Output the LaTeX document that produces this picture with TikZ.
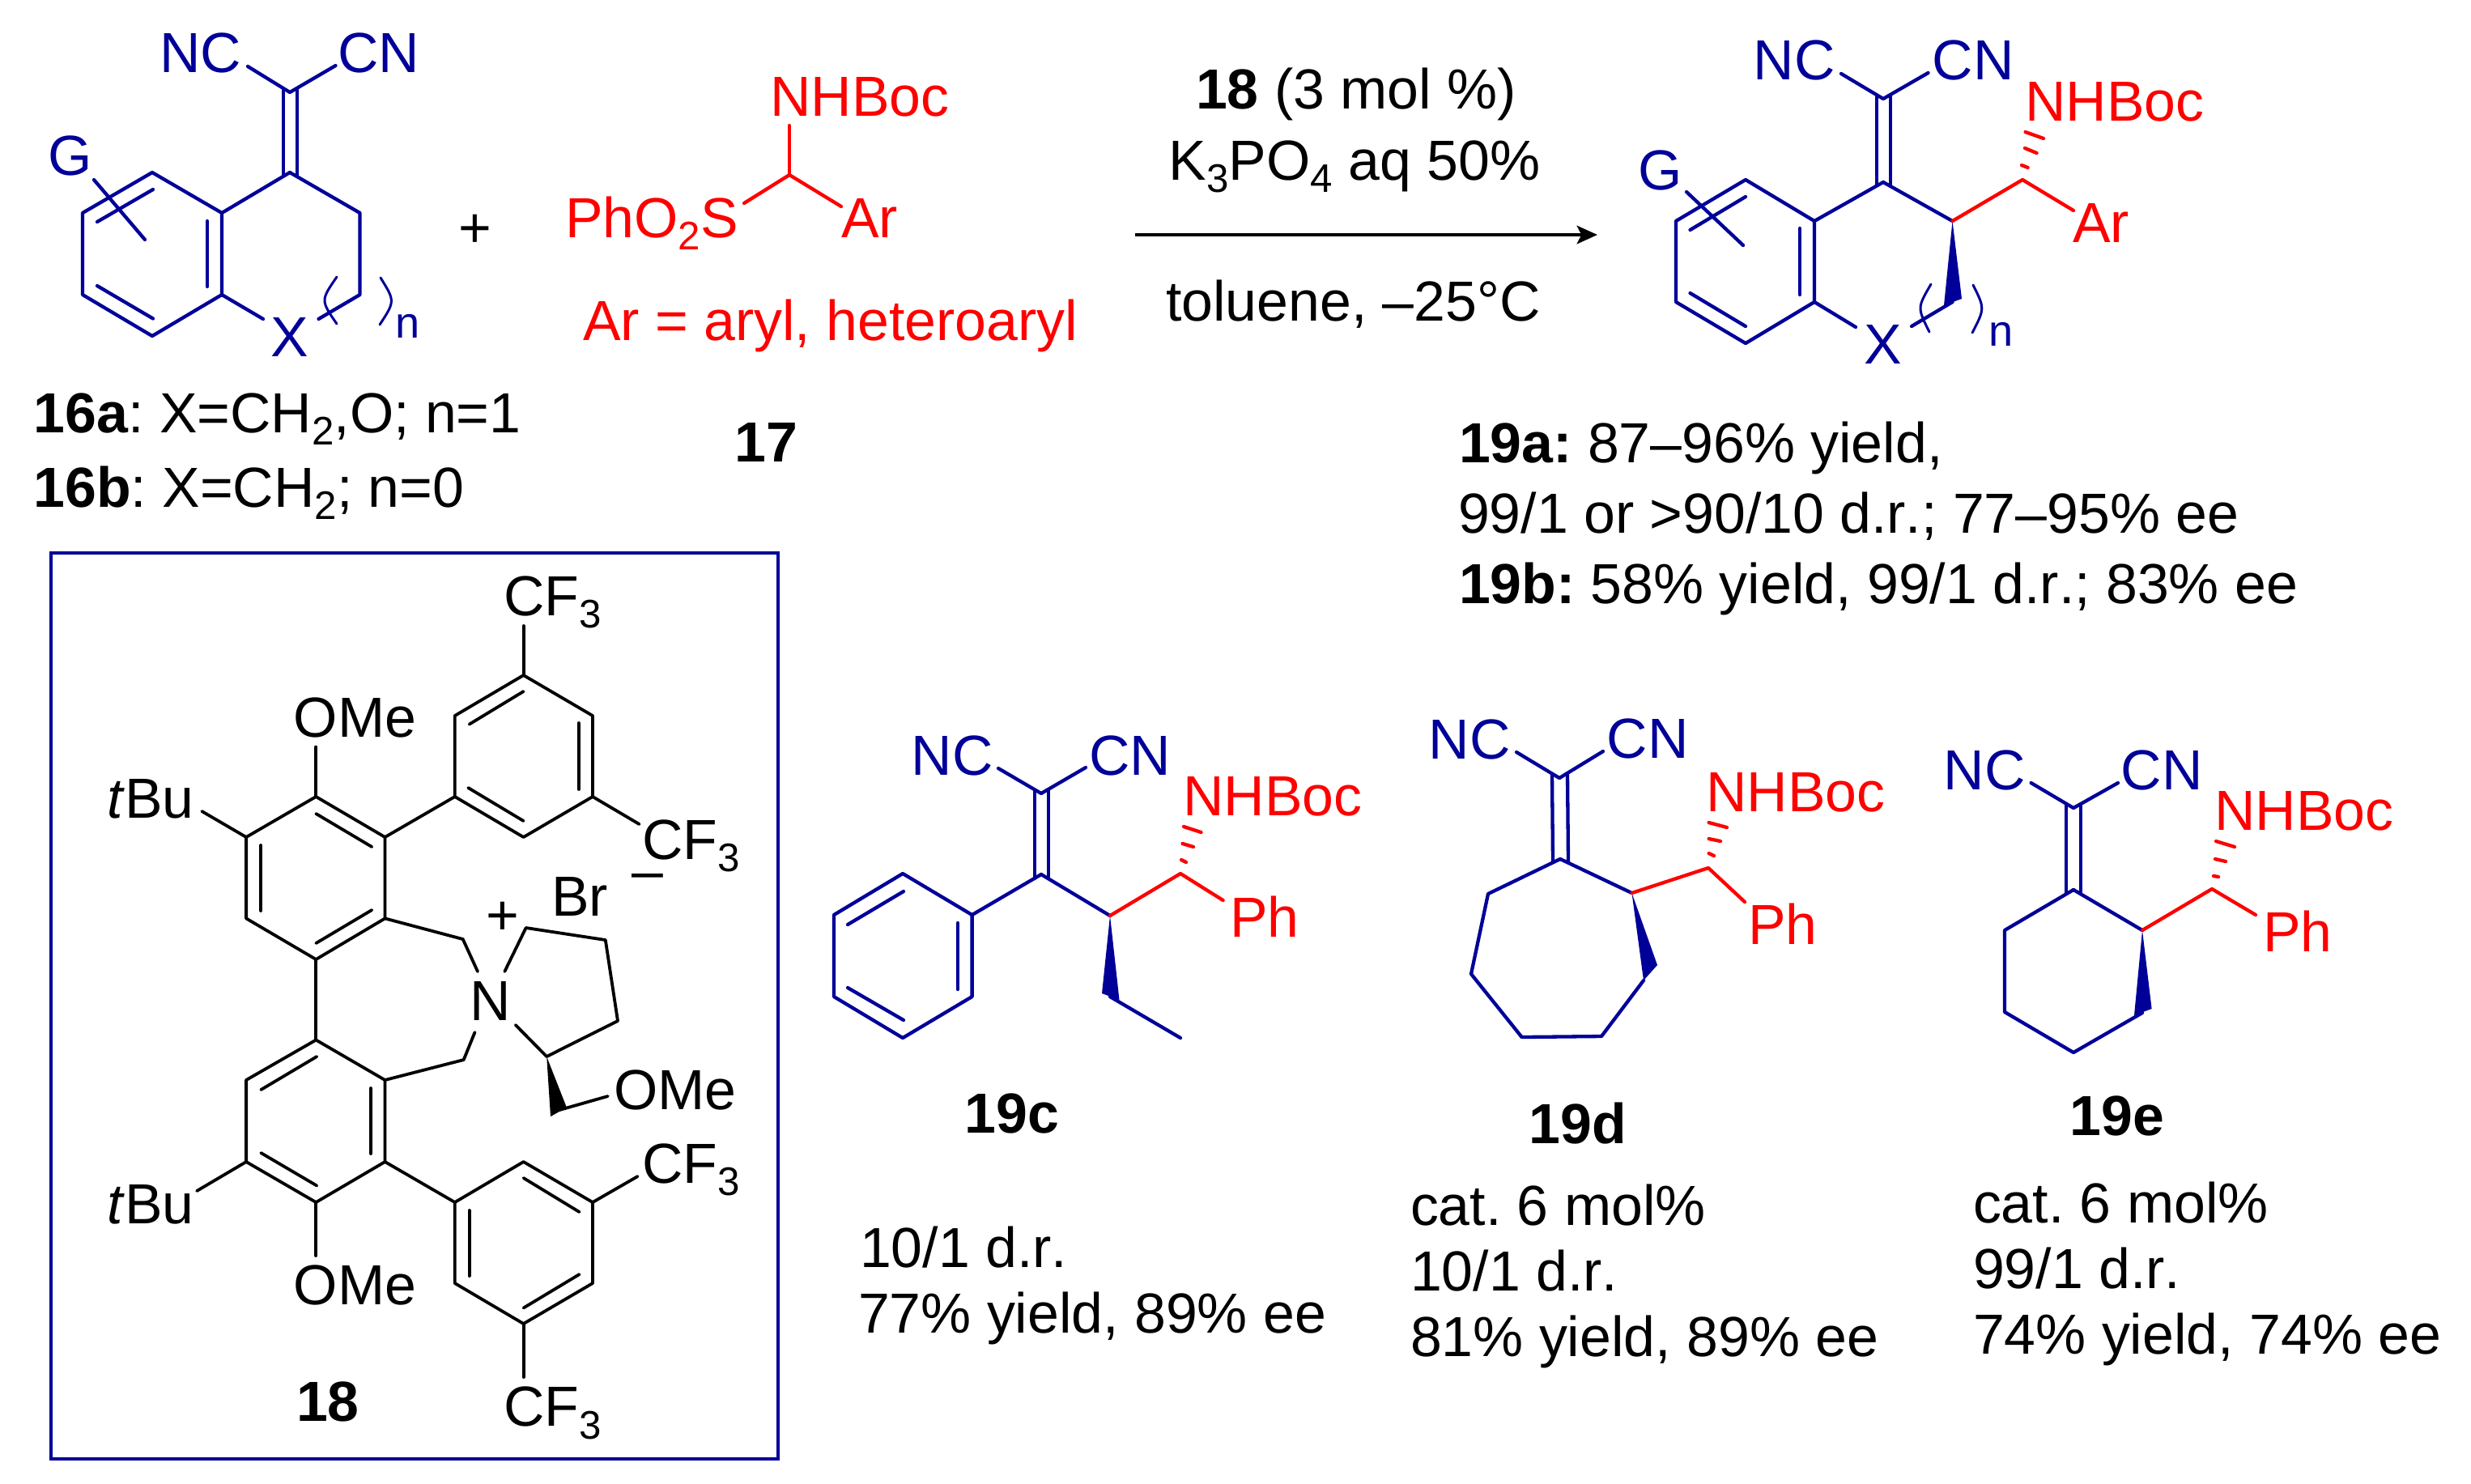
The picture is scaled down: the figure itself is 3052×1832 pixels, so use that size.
\documentclass[tikz,border=0pt]{standalone}
\usepackage{fontspec}
\setmainfont[Kerning=Off]{Liberation Sans}
\usetikzlibrary{arrows.meta}
\definecolor{molblue}{RGB}{0,0,153}
\definecolor{molred}{RGB}{255,0,0}
\newcommand{\sbs}[1]{\raisebox{-4.5pt}{\fontsize{14}{16}\selectfont #1}}
\frenchspacing
\tikzset{
  txt/.style={inner sep=0pt,outer sep=0pt,anchor=base,font=\frenchspacing\fontsize{19.85}{24}\selectfont},
  txtw/.style={txt,anchor=base west},
  txtn/.style={txt,font=\fontsize{15.4}{18}\selectfont},
  bl/.style={molblue},
  rd/.style={molred},
  bondb/.style={draw=molblue,line width=0.043cm,line cap=round,line join=round},
  bondr/.style={draw=molred,line width=0.043cm,line cap=round,line join=round},
  bondk/.style={draw=black,line width=0.038cm,line cap=round,line join=round},
  wedgeb/.style={fill=molblue,draw=none},
  wedgek/.style={fill=black,draw=none},
  paren/.style={draw=molblue,line width=0.03cm,line cap=round},
  framebox/.style={draw=molblue,line width=0.045cm,fill=none},
  rxnarrow/.style={draw=black,line width=0.042cm,-{Stealth[length=7.2pt,width=6.4pt,inset=1.6pt]}}
}
\begin{document}
\begin{tikzpicture}[x=0.01cm,y=-0.01cm]
\useasboundingbox (0,0) rectangle (3052,1832);
\fill[white] (0,0) rectangle (3052,1832);
% ---------- atoms
\foreach \n/\x/\y in {
 % 16
 ua0/358/114,ua1/358/213,ub/274/263,uc/274/364,ud/188/415,ue/102/364,uf/102/263,ug/188/213,uh/444.5/263,ui/444.5/364,
 unc/306/82,ucn/414.5/81,ux1/325/394,ux2/393.5/394,ugA/116/222,ugB/179/296,
 udA/350/110,udB/350/217,udC/367/110,udD/367/217,
 % 17
 s0/975/216,sn/975/155,ss/919/251,sa/1039/255,
 % arrow
 arA/1402/290,arB/1973/290,
 % 19 a/b
 v0/2326/122,v1/2326/225,vb/2241/273,vc/2241/373,vd/2156/424,ve/2070/373,vf/2070/273,vg/2156/222,vh/2411.5/273,vi/2411.5/373,
 vnc/2274/91,vcn/2381.5/90,vx1/2292/404,vx2/2361/403,vgA/2083/237,vgB/2153/303,
 vdA/2318/118,vdB/2318/229,vdC/2335/118,vdD/2335/229,
 vw1/2401/377,vw2/2423/369,vr/2498/222,vra/2561/260,
 % 19c
 c0/1286/980,c1/1286/1080,cP/1200.6/1130,cQ/1200.6/1231,cR/1115/1282,cS/1030/1231,cT/1030/1130,cU/1115/1079,
 cV/1371/1131,cW/1371/1231,cX/1458/1282,cnc/1233/949,ccn/1341/948,cw1/1361/1227,cw2/1382.5/1235,cr/1458/1079,cra/1510.6/1112,
 cdA/1278/976,cdB/1278/1085,cdC/1295/976,cdD/1295/1085,
 % 19d
 d0/1926/961,d1/1927/1061,dP/2015.5/1103,dQ/2030/1211,dR/1978/1280,dS/1879.6/1281,dT/1817/1203,dU/1838/1104,
 dnc/1873/929,dcn/1980/928,dw1/2047/1192,dr/2110/1072,dra/2155/1114,
 ddA/1917/957,ddB/1918/1065,ddC/1936/957,ddD/1937/1065,
 % 19e
 e0/2561/998,e1/2561/1099,eP/2646/1149,eQ/2646/1251,eR/2561/1300,eS/2476/1250,eT/2476/1149,
 enc/2508.6/967,ecn/2616/967,ew1/2636/1254,ew2/2657.6/1246,er/2732/1098,era/2786/1130,
 edA/2552/994,edB/2552/1103,edC/2570/994,edD/2570/1103,
 % 18 upper ring
 k1/390.3/984,k2/475.5/1034,k3/475.5/1134.4,k4/390.3/1185,k5/304.1/1134.4,k6/304.1/1034,
 kome/390.3/922.5,ktbu/249.3/1002,
 m1/561.8/984,m2/646.6/1034,m3/732/984,m4/732/884,m5/646.6/834,m6/561.8/884,mcf/646.6/773,mcg/789.6/1018,
 % 18 lower ring
 l1/390.3/1284.5,l2/475.5/1334,l3/475.5/1435,l4/390.3/1485,l5/304.1/1435,l6/304.1/1334,
 lome/390.3/1551,ltbu/243.1/1471,
 o1/561.8/1485,o2/646.6/1435,o3/732/1485,o4/732/1585,o5/646.6/1635,o6/561.8/1585,ocf/787.6/1453,ocg/646.6/1701,
 % 18 azepine and pyrrolidine
 q1/571.7/1160,qn1/590/1200,q2/572.7/1309,qn2/586.5/1275,
 p1/623.3/1200,p2/649.6/1146,p3/747.8/1161,p4/763/1261,p5/675.2/1305,p6/636.8/1266,
 pw1/680/1379,pw2/699.9/1368,pw0/691/1371,pom/750.7/1354,
 % box
 bxA/63/683,bxB/961/1802
}{\coordinate (\n) at (\x,\y);}

% ---------- 16
\node[txt,bl] (t16nc) at (248,89) {NC};
\node[txt,bl] (t16cn) at (468,89) {CN};
\node[txt,bl] (t16g) at (87,216) {G};
\node[txt,bl] (t16x) at (358,440) {X};
\node[txtn,bl] (t16n) at (504,417) {n};
\draw[bondb] (ua1)--(ub)--(uc)--(ud)--(ue)--(uf)--(ug)--(ub);
\draw[bondb] (ua1)--(uh)--(ui)--(ux2);
\draw[bondb] (uc)--(ux1);
\draw[bondb] (unc)--(ua0)--(ucn);
\draw[bondb] (udA)--(udB);
\draw[bondb] (udC)--(udD);
\draw[bondb] (ugA)--(ugB);
\draw[bondb] (120,274)--(189,234);
\draw[bondb] (256,273)--(256,354);
\draw[bondb] (120,353)--(189,393.5);
\draw[paren] (416,342) .. controls (396,371) .. (416,400);
\draw[paren] (470,343) .. controls (488,372) .. (469,401);
\node[txt] (tplus) at (587,305) {+};
\node[txtw] (t16a) at (41.5,534) {\textbf{16a}: X=CH\sbs{2},O; n=1};
\node[txtw] (t16b) at (41.5,626) {\textbf{16b}: X=CH\sbs{2}; n=0};

% ---------- 17
\node[txt,rd] (t17n) at (1062,143) {NHBoc};
\node[txtw,rd] (t17s) at (698,293) {PhO\sbs{2}S};
\node[txtw,rd] (t17ar) at (1039,293) {Ar};
\node[txtw,rd] (t17def) at (720,420) {Ar = aryl, heteroaryl};
\node[txt] (t17) at (946,570) {\textbf{17}};
\draw[bondr] (ss)--(s0)--(sa);
\draw[bondr] (s0)--(sn);

% ---------- conditions
\node[txt] (tc1) at (1675,134) {\textbf{18} (3 mol \%)};
\node[txt] (tc2) at (1673,222) {K\sbs{3}PO\sbs{4} aq 50\%};
\node[txt] (tc3) at (1671.5,396) {toluene, –25°C};
\draw[rxnarrow] (arA)--(arB);

% ---------- 19
\node[txt,bl] (t19nc) at (2216,98) {NC};
\node[txt,bl] (t19cn) at (2437,98) {CN};
\node[txt,bl] (t19g) at (2051,234) {G};
\node[txt,bl] (t19x) at (2326,449) {X};
\node[txtn,bl] (t19n) at (2472,427) {n};
\node[txt,rd] (t19nh) at (2612,149) {NHBoc};
\node[txtw,rd] (t19ar) at (2560,299) {Ar};
\fill[wedgeb] (vh)--(vw1)--(vw2)--cycle;
\draw[bondb] (v1)--(vb)--(vc)--(vd)--(ve)--(vf)--(vg)--(vb);
\draw[bondb] (v1)--(vh);
\draw[bondb] (vc)--(vx1);
\draw[bondb] (vx2)--(vi);
\draw[bondb] (vnc)--(v0)--(vcn);
\draw[bondb] (vdA)--(vdB);
\draw[bondb] (vdC)--(vdD);
\draw[bondb] (vgA)--(vgB);
\draw[bondb] (2087.5,284)--(2156,243);
\draw[bondb] (2223,282)--(2223,364);
\draw[bondb] (2087.5,362)--(2156,403);
\draw[paren] (2385,351) .. controls (2368,380) .. (2383,410);
\draw[paren] (2437,352) .. controls (2451.5,381) .. (2436,411);
\draw[bondr] (vh)--(vr)--(vra);
\draw[bondr] (2497,204)--(2504.5,207);
\draw[bondr] (2501,183)--(2515.5,189);
\draw[bondr] (2501.5,163)--(2524,171);
\node[txtw] (t19a) at (1802,571) {\textbf{19a:} 87–96\% yield,};
\node[txtw] (t19a2) at (1801,658) {99/1 or >90/10 d.r.; 77–95\% ee};
\node[txtw] (t19b) at (1802,745) {\textbf{19b:} 58\% yield, 99/1 d.r.; 83\% ee};

% ---------- 19c
\node[txt,bl] (tcnc) at (1176,957) {NC};
\node[txt,bl] (tccn) at (1395.6,957) {CN};
\node[txt,rd] (tcnh) at (1572,1007) {NHBoc};
\node[txt,rd] (tcph) at (1562,1157) {Ph};
\fill[wedgeb] (cV)--(cw1)--(cw2)--cycle;
\draw[bondb] (cP)--(cQ)--(cR)--(cS)--(cT)--(cU)--cycle;
\draw[bondb] (c1)--(cP);
\draw[bondb] (c1)--(cV);
\draw[bondb] (cW)--(cX);
\draw[bondb] (cnc)--(c0)--(ccn);
\draw[bondb] (cdA)--(cdB);
\draw[bondb] (cdC)--(cdD);
\draw[bondb] (1183,1140)--(1183,1222);
\draw[bondb] (1116,1260)--(1047,1220);
\draw[bondb] (1047,1142)--(1116,1101);
\draw[bondr] (cV)--(cr)--(cra);
\draw[bondr] (1459,1062)--(1465,1065);
\draw[bondr] (1460.5,1042)--(1474,1046);
\draw[bondr] (1462,1021)--(1483.5,1028);
\node[txt] (t19c) at (1250,1399) {\textbf{19c}};
\node[txtw] (tc19a) at (1062,1565) {10/1 d.r.};
\node[txtw] (tc19b) at (1060,1646) {77\% yield, 89\% ee};

% ---------- 19d
\node[txt,bl] (tdnc) at (1815,937) {NC};
\node[txt,bl] (tdcn) at (2035,936) {CN};
\node[txt,rd] (tdnh) at (2218,1002) {NHBoc};
\node[txt,rd] (tdph) at (2202,1166) {Ph};
\fill[wedgeb] (dP)--(dw1)--(dQ)--cycle;
\draw[bondb] (d1)--(dP);
\draw[bondb] (dQ)--(dR)--(dS)--(dT)--(dU)--(d1);
\draw[bondb] (dnc)--(d0)--(dcn);
\draw[bondb] (ddA)--(ddB);
\draw[bondb] (ddC)--(ddD);
\draw[bondr] (dP)--(dr)--(dra);
\draw[bondr] (2110.6,1054)--(2117,1057);
\draw[bondr] (2110.6,1036)--(2125,1039);
\draw[bondr] (2110.6,1016)--(2133,1022);
\node[txt] (t19d) at (1949,1412) {\textbf{19d}};
\node[txtw] (td19a) at (1742,1513) {cat. 6 mol\%};
\node[txtw] (td19b) at (1742,1594) {10/1 d.r.};
\node[txtw] (td19c) at (1742,1675) {81\% yield, 89\% ee};

% ---------- 19e
\node[txt,bl] (tenc) at (2451,975) {NC};
\node[txt,bl] (tecn) at (2670,975) {CN};
\node[txt,rd] (tenh) at (2846,1025) {NHBoc};
\node[txt,rd] (teph) at (2838,1175) {Ph};
\fill[wedgeb] (eP)--(ew1)--(ew2)--cycle;
\draw[bondb] (e1)--(eP);
\draw[bondb] (eQ)--(eR)--(eS)--(eT)--(e1);
\draw[bondb] (enc)--(e0)--(ecn);
\draw[bondb] (edA)--(edB);
\draw[bondb] (edC)--(edD);
\draw[bondr] (eP)--(er)--(era);
\draw[bondr] (2734,1082)--(2740,1083);
\draw[bondr] (2736,1061)--(2749,1064);
\draw[bondr] (2737,1039)--(2760,1046);
\node[txt] (t19e) at (2615,1402) {\textbf{19e}};
\node[txtw] (te19a) at (2437,1510) {cat. 6 mol\%};
\node[txtw] (te19b) at (2437,1591) {99/1 d.r.};
\node[txtw] (te19c) at (2437,1672) {74\% yield, 74\% ee};

% ---------- 18 box
\draw[framebox] (bxA) rectangle (bxB);
\draw[bondk] (k1)--(k2)--(k3)--(k4)--(k5)--(k6)--cycle;
\draw[bondk] (kome)--(k1);
\draw[bondk] (ktbu)--(k6);
\draw[bondk] (390.3,1005)--(459.3,1046);
\draw[bondk] (459.3,1124)--(390.3,1165);
\draw[bondk] (322.3,1044)--(322.3,1125);
\draw[bondk] (k2)--(m1);
\draw[bondk] (m1)--(m2)--(m3)--(m4)--(m5)--(m6)--cycle;
\draw[bondk] (578.2,973)--(646.6,1014);
\draw[bondk] (714.7,975)--(714.7,893);
\draw[bondk] (646.6,854)--(579.6,894.6);
\draw[bondk] (m5)--(mcf);
\draw[bondk] (m3)--(mcg);
\draw[bondk] (k4)--(l1);
\draw[bondk] (l1)--(l2)--(l3)--(l4)--(l5)--(l6)--cycle;
\draw[bondk] (391.3,1305)--(322.3,1346);
\draw[bondk] (457.9,1344)--(457.9,1425);
\draw[bondk] (322.3,1424)--(391.3,1464.5);
\draw[bondk] (l4)--(lome);
\draw[bondk] (l5)--(ltbu);
\draw[bondk] (l3)--(o1);
\draw[bondk] (o1)--(o2)--(o3)--(o4)--(o5)--(o6)--cycle;
\draw[bondk] (646.6,1455)--(715.6,1497);
\draw[bondk] (579.6,1495)--(579.6,1576);
\draw[bondk] (646.6,1615.5)--(715.6,1574);
\draw[bondk] (o3)--(ocf);
\draw[bondk] (o5)--(ocg);
\draw[bondk] (k3)--(q1)--(qn1);
\draw[bondk] (l2)--(q2)--(qn2);
\draw[bondk] (p1)--(p2)--(p3)--(p4)--(p5)--(p6);
\fill[wedgek] (p5)--(pw1)--(pw2)--cycle;
\draw[bondk] (pw0)--(pom);
\node[txt] (tome1) at (438.6,910) {OMe};
\node[txt] (ttbu1) at (186.2,1010) {\textit{t}Bu};
\node[txtw] (tcf1) at (622,760) {CF\sbs{3}};
\node[txtw] (tcf2) at (793.5,1061) {CF\sbs{3}};
\node[txt] (tminus) at (799.4,1099) {–};
\node[txtw] (tbr) at (681.1,1131) {Br};
\node[txt] (tplus2) at (620.5,1154) {+};
\node[txt] (tn) at (605.2,1260) {N};
\node[txtw] (tome3) at (758,1370) {OMe};
\node[txtw] (tcf3) at (793.5,1461) {CF\sbs{3}};
\node[txt] (ttbu2) at (186.2,1511) {\textit{t}Bu};
\node[txt] (tome2) at (438.6,1611) {OMe};
\node[txtw] (tcf4) at (622,1761.5) {CF\sbs{3}};
\node[txt] (t18) at (405,1755) {\textbf{18}};
\end{tikzpicture}
\end{document}
